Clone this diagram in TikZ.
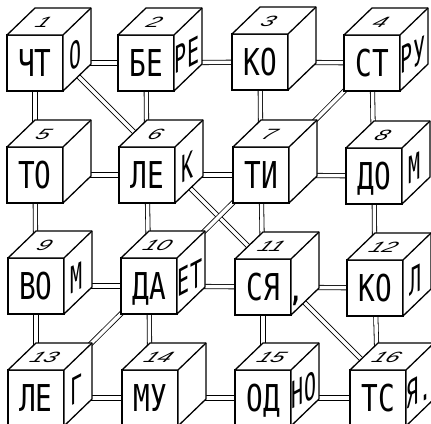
\documentclass[tikz,border=0pt]{standalone}
\usepackage{fontspec}
\usetikzlibrary{calc,backgrounds}
\newfontfamily\letterfont[FakeStretch=0.75]{DejaVu Sans Mono}
\newfontfamily\numberfont{Liberation Sans}
\tikzset{
  front/.style={draw, fill=white, line width=1.3pt, minimum width=56pt, minimum height=56pt,
    outer sep=0pt, inner sep=0pt, font=\letterfont\fontsize{37pt}{37pt}\selectfont,
    text height=27pt, text depth=0pt},
  face/.style={draw, fill=white, line width=1.3pt, line join=round},
  side/.style={font=\letterfont\fontsize{37pt}{37pt}\selectfont, cm={0.72,0.38,0,1,(0,0)},
    inner sep=0pt, text height=27pt, text depth=0pt},
  num/.style={font=\numberfont\itshape\fontsize{24pt}{24pt}\selectfont, cm={1,0,0.4,0.62,(0,0)},
    inner sep=0pt, text height=17pt, text depth=0pt},
  pipe/.style={double=white, double distance=3.5pt, line width=0.8pt},
  mark11/.style={font=\letterfont\bfseries\fontsize{30pt}{30pt}\selectfont, inner sep=0pt}
}
\newcommand\mkcube[6]{%
  \node[front] (#1) at (#2+28,#3+28) {#5};
  \filldraw[face] (#1.north west) -- ++(28,-27) -- ++(56,0) -- ++(0,56) -- (#1.south east) -- (#1.north east) -- cycle;
  \draw[face] (#1.north east) -- ++(28,-27);
  \begin{scope}[shift={($(#1.north)+(9,-13)$)}]
    \node[num] (#1n) at (0,0) {#4};
  \end{scope}
  \begin{scope}[shift={($(#1.east)+(13,-8)$)}]
    \node[side] (#1r) at (0,0) {#6};
  \end{scope}
}
\begin{document}
\begin{tikzpicture}[x=1pt,y=-1pt]
\useasboundingbox (0,0) rectangle (431,423);
\clip (0,0) rectangle (431,423);
\mkcube{c1}{7}{35}{1}{ЧТ}{О}
\mkcube{c2}{118}{35}{2}{БЕ}{РЕ}
\mkcube{c3}{232}{34}{3}{КО}{}
\mkcube{c4}{344}{35}{4}{СТ}{РУ}
\mkcube{c5}{7}{147}{5}{ТО}{}
\mkcube{c6}{119}{147}{6}{ЛЕ}{К}
\mkcube{c7}{233}{147}{7}{ТИ}{}
\mkcube{c8}{346}{148}{8}{ДО}{М}
\mkcube{c9}{8}{258}{9}{ВО}{М}
\mkcube{c10}{121}{258}{10}{ДА}{ЕТ}
\mkcube{c11}{235}{259}{11}{СЯ}{}
\mkcube{c12}{347}{260}{12}{КО}{Л}
\mkcube{c13}{8}{370}{13}{ЛЕ}{Г}
\mkcube{c14}{122}{370}{14}{МУ}{}
\mkcube{c15}{235}{370}{15}{ОД}{НО}
\mkcube{c16}{350}{370}{16}{ТС}{Я.}
\node[mark11] (comma11) at ($(c11.south east)+(5,-14)$) {,};
\begin{pgfonlayer}{background}
  % horizontal
  \draw[pipe] (c1) -- (c2); \draw[pipe] (c2) -- (c3); \draw[pipe] (c3) -- (c4);
  \draw[pipe] (c5) -- (c6); \draw[pipe] (c6) -- (c7); \draw[pipe] (c7) -- (c8);
  \draw[pipe] (c9) -- (c10); \draw[pipe] (c10) -- (c11); \draw[pipe] (c11) -- (c12);
  \draw[pipe] (c13) -- (c14); \draw[pipe] (c14) -- (c15); \draw[pipe] (c15) -- (c16);
  % vertical
  \draw[pipe] (c1) -- (c5); \draw[pipe] (c5) -- (c9); \draw[pipe] (c9) -- (c13);
  \draw[pipe] (c2) -- (c6); \draw[pipe] (c6) -- (c10); \draw[pipe] (c10) -- (c14);
  \draw[pipe] (c3) -- (c7); \draw[pipe] (c7) -- (c11); \draw[pipe] (c11) -- (c15);
  \draw[pipe] (c4) -- (c8); \draw[pipe] (c8) -- (c12); \draw[pipe] (c12) -- (c16);
  % diagonals
  \draw[pipe] ([yshift=30pt]c1.center) -- ([yshift=30pt]c6.center);
  \draw[pipe] ([yshift=30pt]c6.center) -- ([yshift=26pt]c11.center);
  \draw[pipe] ([yshift=26pt]c11.center) -- ([yshift=22pt]c16.center);
  \draw[pipe] (c4.center) -- (c7.center);
  \draw[pipe] (c7.center) -- (c10.center);
  \draw[pipe] (c10.center) -- (c13.center);
\end{pgfonlayer}
\end{tikzpicture}
\end{document}
